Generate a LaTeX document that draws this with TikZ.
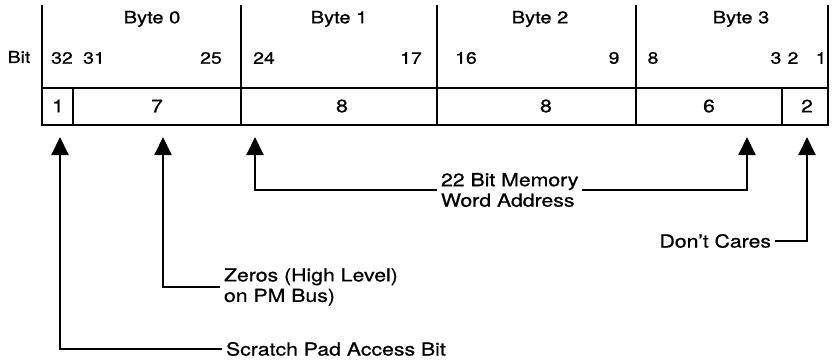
\documentclass[tikz,border=0pt]{standalone}
\usepackage{fontspec}
\setmainfont{TeX Gyre Heros}[FakeStretch=1.18, FakeBold=0.8]
\usetikzlibrary{arrows.meta}

\tikzset{
  lbl/.style={font=\fontsize{18}{20.5}\selectfont, align=left, inner sep=3pt},
  num/.style={font=\fontsize{16.5}{18}\selectfont, inner sep=0pt},
  hdr/.style={font=\fontsize{17}{18}\selectfont, inner sep=0pt},
  cell/.style={font=\fontsize{18}{18}\selectfont, inner sep=0pt},
  arr/.style={-{Triangle[length=18pt,width=17pt]}, line width=2pt},
}

\begin{document}
\begin{tikzpicture}[x=1pt,y=-1pt,line width=2pt]
\useasboundingbox (0,0) rectangle (833,360);
% register frame
\draw (42,5) -- (42,125) -- (828,125) -- (828,5);
\draw (241,5) -- (241,125) (437,5) -- (437,125) (636,5) -- (636,125);
\draw (42,88) -- (828,88);
\draw (73,88) -- (73,125) (782,88) -- (782,125);
% byte headings
\node[hdr] (by0) at (152,19) {Byte 0};
\node[hdr] (by1) at (339,19) {Byte 1};
\node[hdr] (by2) at (540,19) {Byte 2};
\node[hdr] (by3) at (741,19) {Byte 3};
% bit numbers
\node[num] (bit) at (19,57) {Bit};
\node[num] (n32) at (62,58) {32};
\node[num] (n31) at (94,58) {31};
\node[num] (n25) at (211,58) {25};
\node[num] (n24) at (264,58) {24};
\node[num] (n17) at (411,58) {17};
\node[num] (n16) at (466,58) {16};
\node[num] (n9) at (614,58) {9};
\node[num] (n8) at (653,58) {8};
\node[num] (n3) at (776,58) {3};
\node[num] (n2) at (793,58) {2};
\node[num] (n1) at (821,58) {1};
% field widths
\node[cell] (w1) at (58,106) {1};
\node[cell] (w7) at (157,106) {7};
\node[cell] (w8a) at (342,106) {8};
\node[cell] (w8b) at (546,106) {8};
\node[cell] (w6) at (709,106) {6};
\node[cell] (w2) at (807,106) {2};
% arrow heads
\coordinate (a32) at (60,137);
\coordinate (a31) at (163,137);
\coordinate (a24) at (255,137);
\coordinate (a3) at (747,137);
\coordinate (a2) at (807,137);
% labels
\node[lbl, anchor=west] (sp) at (222,349) {Scratch Pad Access Bit};
\node[lbl, anchor=west] (zero) at (220,287) {Zeros (High Level)\\on PM Bus)};
\node[lbl, anchor=west] (mem) at (437,190) {22 Bit Memory\\Word Address};
\node[lbl, anchor=east] (dc) at (775,241) {Don't Cares};
\draw[arr] (sp.west) -| (a32);
\draw[arr] (zero.west) -| (a31);
\draw[arr] (mem.west) -| (a24);
\draw[arr] (mem.east) -| (a3);
\draw[arr] (dc.east) -| (a2);
\end{tikzpicture}
\end{document}
